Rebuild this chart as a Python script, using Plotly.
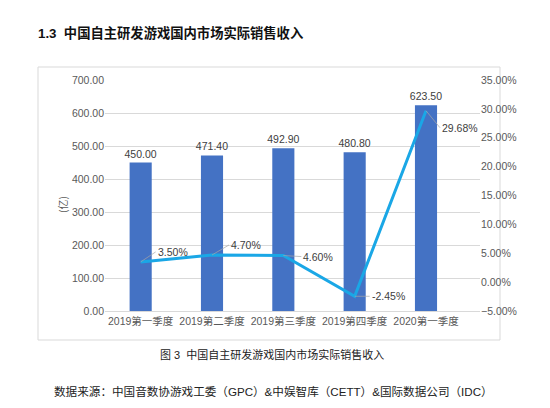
from plotly import graph_objects as plgo

# quarterly sales revenue of self-developed games in the domestic market
quarters = ['2019第一季度', '2019第二季度', '2019第三季度', '2019第四季度', '2020第一季度']
revenue = [450.00, 471.40, 492.90, 480.80, 623.50]
growth = [0.035, 0.047, 0.046, -0.0245, 0.2968]

# label offsets (pixels) for the growth labels, like Excel leader lines
label_dx = [15, 17, 18, 15, 14]
label_dy = [-10, -10, 1, 0, 17]

title_text = '1.3  中国自主研发游戏国内市场实际销售收入'
caption_text = '图 3  中国自主研发游戏国内市场实际销售收入'
source_text = '数据来源：中国音数协游戏工委（GPC）&中娱智库（CETT）&国际数据公司（IDC）'

# the page body has an 8px margin, so the figure is drawn 8px in from the window corner
OFF = 8
W, H = 550 - OFF, 408 - OFF
L, T = 105 - OFF, 80 - OFF
R = W - (480 - OFF)
B = H - (311 - OFF)
pw, ph = W - L - R, H - T - B


def px(x):
    # window pixel -> paper x
    return (x - OFF - L) / pw


def py(y):
    # window pixel -> paper y
    return (H - B - (y - OFF)) / ph


SANS = 'Liberation Sans, Noto Sans CJK SC, sans-serif'
CJK = 'Noto Sans CJK SC, sans-serif'
GRAY = '#595959'

fig = plgo.Figure()
fig.add_trace(plgo.Bar(x=quarters, y=revenue, marker=dict(color='#4472C4', line=dict(width=0)),
                       text=[f'{v:.2f}' for v in revenue], textposition='outside', constraintext='none',
                       textfont=dict(size=10.5, color='#404040', family=SANS),
                       cliponaxis=False, showlegend=False, hoverinfo='skip'))
fig.add_trace(plgo.Scatter(x=quarters, y=growth, yaxis='y2', mode='lines',
                           line=dict(color='#1AA7E6', width=3), showlegend=False))

annotations = []
for q, g, dx, dy in zip(quarters, growth, label_dx, label_dy):
    annotations.append(dict(x=q, y=g, xref='x', yref='y2', text=f'{g * 100:.2f}%',
                            showarrow=True, arrowhead=0, arrowwidth=0.7, arrowcolor='#A6A6A6',
                            ax=dx, ay=dy, xanchor='left', yanchor='middle',
                            font=dict(size=10.5, color='#404040', family=SANS)))

annotations.append(dict(x=px(272), y=py(354), xref='paper', yref='paper', text=caption_text,
                        showarrow=False, xanchor='center', yanchor='middle',
                        font=dict(size=11, color='#222222', family=SANS)))
annotations.append(dict(x=px(273), y=py(391), xref='paper', yref='paper', text=source_text,
                        showarrow=False, xanchor='center', yanchor='middle',
                        font=dict(size=11.6, color='#222222', family=SANS)))
annotations.append(dict(x=px(62), y=py(205), xref='paper', yref='paper', text='(亿)',
                        showarrow=False, textangle=-90, xanchor='center', yanchor='middle',
                        font=dict(size=10, color=GRAY, family=CJK)))

fig.update_layout(
    width=W, height=H,
    margin=dict(l=L, r=R, t=T, b=B),
    paper_bgcolor='white', plot_bgcolor='white',
    title=dict(text=title_text, xref='container', yref='container', x=(38 - OFF) / W, y=1 - (33 - OFF) / H,
               xanchor='left', yanchor='middle',
               font=dict(size=13.3, color='#111111', family=SANS, weight='bold')),
    bargap=0.69,
    xaxis=dict(showline=True, linecolor='#D9D9D9', ticks='', showgrid=False,
               tickfont=dict(size=10.5, color=GRAY, family=SANS)),
    yaxis=dict(range=[0, 700], dtick=100, tickformat='.2f', showgrid=True, gridcolor='#D9D9D9',
               zeroline=False, ticks='', tickfont=dict(size=10.5, color=GRAY, family=SANS)),
    yaxis2=dict(range=[-0.05, 0.35], dtick=0.05, tickformat='.2%', overlaying='y', side='right',
                showgrid=False, zeroline=False, ticks='',
                tickfont=dict(size=10.5, color=GRAY, family=SANS)),
    annotations=annotations,
    shapes=[dict(type='rect', xref='paper', yref='paper', x0=px(38), x1=px(500), y0=py(340), y1=py(67),
                 line=dict(color='#D9D9D9', width=1), layer='below')],
)

fig.write_html('out.html')
